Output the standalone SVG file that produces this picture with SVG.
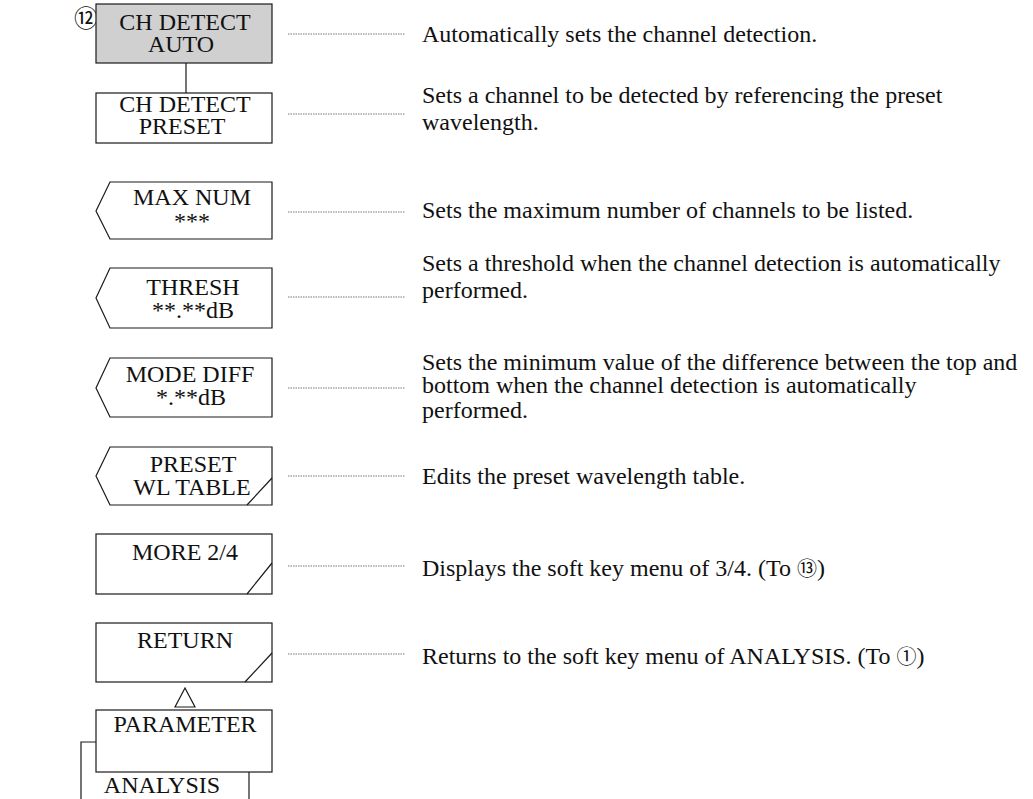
<svg xmlns="http://www.w3.org/2000/svg" width="1033" height="799" viewBox="0 0 1033 799">
<style>
.box{fill:#fff;stroke:#1a1a1a;stroke-width:1.2}
.gray{fill:#d0d0d0}
.k{font-family:"Liberation Serif","Times New Roman",serif;font-size:24px;fill:#111;text-anchor:middle}
.d{font-family:"Liberation Serif","Times New Roman",serif;font-size:24px;fill:#111}
.lead{stroke:#777;stroke-width:1;stroke-dasharray:1.5 1}
.ln{stroke:#1a1a1a;stroke-width:1.2;fill:none}
.c{font-family:"Noto Sans CJK JP","DejaVu Sans",sans-serif}
</style>
<rect width="1033" height="799" fill="#fff"/>
<text x="86" y="27" class="d c" font-size="17" text-anchor="middle">⑫</text>

<g id="connectors">
<line class="ln" x1="186" y1="63" x2="186" y2="93"/>
<polygon class="ln" points="185,688 175,707 195,707" fill="#fff"/>
<polyline class="ln" points="96,742 81,742 81,799"/>
<line class="ln" x1="249" y1="772" x2="249" y2="799"/>
<line class="lead" x1="288" y1="34" x2="405" y2="34"/>
<line class="lead" x1="288" y1="114" x2="405" y2="114"/>
<line class="lead" x1="288" y1="212" x2="405" y2="212"/>
<line class="lead" x1="288" y1="297" x2="405" y2="297"/>
<line class="lead" x1="288" y1="388" x2="405" y2="388"/>
<line class="lead" x1="288" y1="476" x2="405" y2="476"/>
<line class="lead" x1="288" y1="566" x2="405" y2="566"/>
<line class="lead" x1="288" y1="654" x2="405" y2="654"/>
</g>

<g id="ch-detect-auto">
<rect class="box gray" x="96" y="4" width="176" height="59"/>
<text class="k" x="185" y="30">CH DETECT</text>
<text class="k" x="181" y="52">AUTO</text>
</g>
<g id="ch-detect-preset">
<rect class="box" x="96" y="93" width="176" height="50"/>
<text class="k" x="185" y="112">CH DETECT</text>
<text class="k" x="182" y="134">PRESET</text>
</g>
<g id="max-num">
<polygon class="box" points="110,182 272,182 272,239 110,239 96,211"/>
<text class="k" x="192" y="205">MAX NUM</text>
<text class="k" x="192" y="229" font-size="20">***</text>
</g>
<g id="thresh">
<polygon class="box" points="110,268 272,268 272,328 110,328 96,298"/>
<text class="k" x="193" y="295">THRESH</text>
<text class="k" x="193" y="318">**.**dB</text>
</g>
<g id="mode-diff">
<polygon class="box" points="110,358 272,358 272,417 110,417 96,388"/>
<text class="k" x="190" y="382">MODE DIFF</text>
<text class="k" x="191" y="405">*.**dB</text>
</g>
<g id="preset-wl-table">
<polygon class="box" points="110,447 272,447 272,505 110,505 96,476"/>
<line class="ln" x1="247" y1="505" x2="272" y2="478"/>
<text class="k" x="193" y="472">PRESET</text>
<text class="k" x="192" y="495">WL TABLE</text>
</g>
<g id="more">
<rect class="box" x="96" y="534" width="176" height="60"/>
<line class="ln" x1="247" y1="594" x2="272" y2="563"/>
<text class="k" x="185" y="560">MORE 2/4</text>
</g>
<g id="return">
<rect class="box" x="96" y="623" width="176" height="59"/>
<line class="ln" x1="245" y1="682" x2="272" y2="653"/>
<text class="k" x="185" y="648">RETURN</text>
</g>
<g id="parameter">
<rect class="box" x="96" y="710" width="176" height="62"/>
<text class="k" x="185" y="732">PARAMETER</text>
</g>
<g id="analysis">
<text class="k" x="162" y="793">ANALYSIS</text>
</g>

<g id="descriptions">
<text class="d" x="422" y="42">Automatically sets the channel detection.</text>
<text class="d" x="422" y="103">Sets a channel to be detected by referencing the preset</text>
<text class="d" x="422" y="130">wavelength.</text>
<text class="d" x="422" y="218">Sets the maximum number of channels to be listed.</text>
<text class="d" x="422" y="271">Sets a threshold when the channel detection is automatically</text>
<text class="d" x="422" y="298">performed.</text>
<text class="d" x="422" y="370">Sets the minimum value of the difference between the top and</text>
<text class="d" x="422" y="393">bottom when the channel detection is automatically</text>
<text class="d" x="422" y="418">performed.</text>
<text class="d" x="422" y="484">Edits the preset wavelength table.</text>
<text class="d" x="422" y="576">Displays the soft key menu of 3/4. (To <tspan class="c" font-size="20">⑬</tspan>)</text>
<text class="d" x="422" y="664">Returns to the soft key menu of ANALYSIS. (To <tspan class="c" font-size="20">①</tspan>)</text>
</g>
</svg>
